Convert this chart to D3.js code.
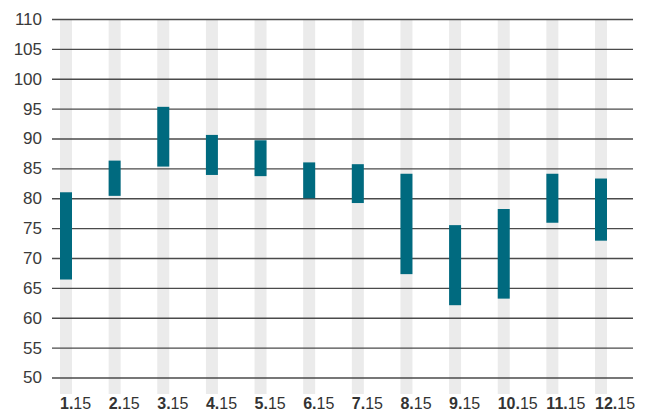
<!DOCTYPE html>
<html>
<head>
<meta charset="utf-8">
<script src="https://cdn.jsdelivr.net/npm/d3@7"></script>
<style>
  html, body { margin: 0; padding: 0; background: #fff; }
  svg { display: block; font-family: "Liberation Sans", Arial, sans-serif; }
</style>
</head>
<body>
<svg id="chart" width="648" height="412"></svg>
<script>
// monthly range bars (low..high), months of 2015
const months = ["1", "2", "3", "4", "5", "6", "7", "8", "9", "10", "11", "12"];
const lows  = [66.4, 80.4, 85.3, 83.9, 83.7, 80.0, 79.2, 67.3, 62.1, 63.2, 75.9, 72.9];
const highs = [81.0, 86.3, 95.3, 90.6, 89.7, 86.0, 85.7, 84.1, 75.5, 78.2, 84.1, 83.3];
const yTicks = [50, 55, 60, 65, 70, 75, 80, 85, 90, 95, 100, 105, 110];

const svg = d3.select("#chart");
const barW = 12;

const x = d3.scalePoint().domain(months).range([66, 601]);
const y = d3.scaleLinear().domain([50, 110]).range([377.5, 19]);

// grey column bands
svg.append("g").selectAll("rect")
  .data(months).join("rect")
  .attr("x", (d) => x(d) - barW / 2).attr("width", barW)
  .attr("y", y(110)).attr("height", 394 - y(110))
  .attr("fill", "#ebebeb");

// gridlines + y labels
const yAxis = d3.axisLeft(y).tickValues(yTicks).tickSize(-(633 - 52)).tickPadding(10);
const gy = svg.append("g").attr("transform", "translate(52,0)").call(yAxis);
gy.select(".domain").remove();
gy.selectAll(".tick line").attr("stroke", "#4a4a4a").attr("stroke-width", 1.4);
gy.selectAll(".tick text").attr("fill", "#3a3a3a").attr("font-size", 17).attr("x", -10);

// range bars
svg.append("g").selectAll("rect")
  .data(months).join("rect")
  .attr("x", (d) => x(d) - barW / 2).attr("width", barW)
  .attr("y", (d, i) => y(highs[i]))
  .attr("height", (d, i) => y(lows[i]) - y(highs[i]))
  .attr("fill", "#006a7f");

// month labels: bold month, regular year
const lab = svg.append("g").selectAll("text")
  .data(months).join("text")
  .attr("x", (d) => x(d) - barW / 2).attr("y", 409)
  .attr("font-size", 16).attr("fill", "#333");
lab.append("tspan").attr("font-weight", "bold").text((d) => d + ".");
lab.append("tspan").text("15");
</script>
</body>
</html>
